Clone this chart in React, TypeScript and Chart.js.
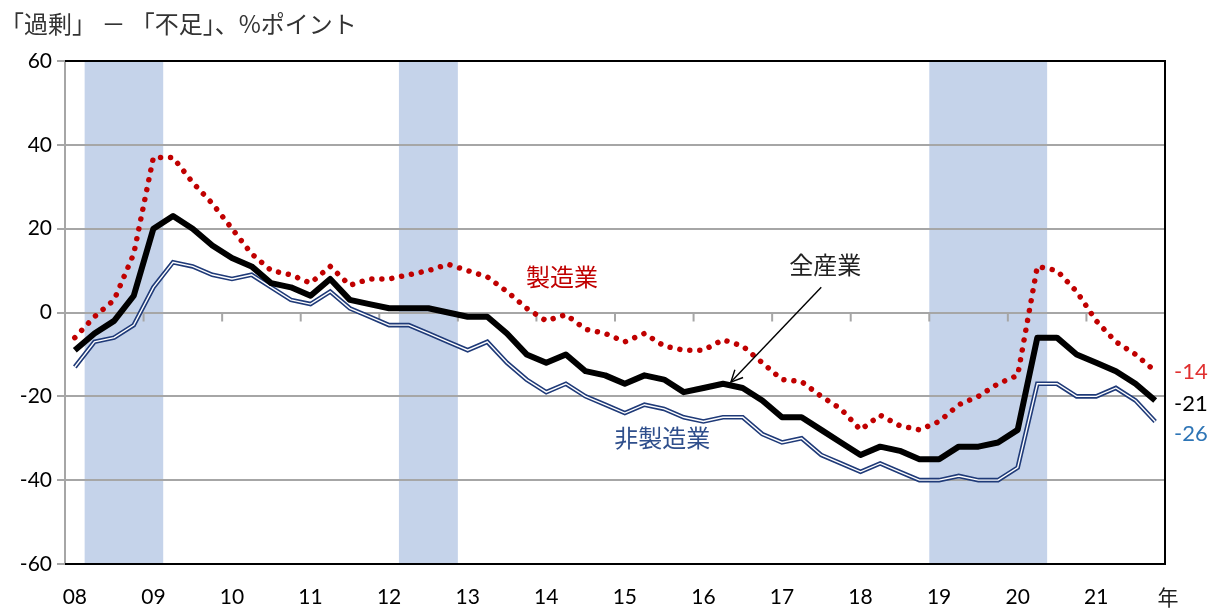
import React, { useEffect, useRef } from "react";
import { Chart, registerables } from "chart.js";

Chart.register(...registerables);

// ---- data ----
const years = ["08", "09", "10", "11", "12", "13", "14", "15", "16", "17", "18", "19", "20", "21"];
const quarterLabels = years.flatMap((yy) => [yy, "", "", ""]);

const allIndustries = [
  -9, -5, -2, 4, 20, 23, 20, 16, 13, 11, 7, 6, 4, 8,
  3, 2, 1, 1, 1, 0, -1, -1, -5, -10, -12, -10, -14, -15,
  -17, -15, -16, -19, -18, -17, -18, -21, -25, -25, -28, -31, -34, -32,
  -33, -35, -35, -32, -32, -31, -28, -6, -6, -10, -12, -14, -17, -21,
];
const manufacturing = [
  -6, -1, 3, 14, 37, 37, 31, 26, 20, 14, 10, 9, 7, 11,
  6.5, 8, 8, 9, 10, 11.5, 10, 8.5, 5, 1, -2, -0.5, -4, -5,
  -7, -5, -8, -9, -9, -6.5, -8, -12, -16, -16.5, -20, -23, -28, -24.5,
  -27, -28, -26, -22, -20, -17, -15, 11, 10, 5, -2, -7, -10, -14,
];
const nonManufacturing = [
  -13, -7, -6, -3, 6, 12, 11, 9, 8, 9, 6, 3, 2, 5,
  1, -1, -3, -3, -5, -7, -9, -7, -12, -16, -19, -17, -20, -22,
  -24, -22, -23, -25, -26, -25, -25, -29, -31, -30, -34, -36, -38, -36,
  -38, -40, -40, -39, -40, -40, -37, -17, -17, -20, -20, -18, -21, -26,
];
// recession periods as [first quarter index, last quarter index]
const recessionBands: [number, number][] = [
  [1, 4],
  [17, 19],
  [44, 49],
];
const yTicks = { min: -60, max: 60, step: 20 };

const RED = "#c00000";
const NAVY = "#1f3a78";
const CJK = '"Noto Sans CJK JP", "Noto Sans", sans-serif';
const NUM = 'Lato, "Noto Sans", sans-serif';

const decorPlugin = {
  id: "decor",
  beforeDraw(chart: any) {
    const { ctx, chartArea: a, scales } = chart;
    const x = scales.x;
    ctx.save();
    ctx.fillStyle = "#c5d3ea";
    for (const [s, e] of recessionBands) {
      const x0 = x.getPixelForValue(s - 0.5);
      const x1 = x.getPixelForValue(e + 0.5);
      ctx.fillRect(x0, a.top, x1 - x0, a.bottom - a.top);
    }
    ctx.restore();
  },
  beforeDatasetsDraw(chart: any) {
    const { ctx, scales } = chart;
    const x = scales.x;
    const y = scales.y;
    const y0 = y.getPixelForValue(0);
    ctx.save();
    ctx.strokeStyle = "#a6a6a6";
    ctx.lineWidth = 2;
    for (let k = 1; k <= years.length; k++) {
      const px = x.getPixelForValue(4 * k - 0.5);
      ctx.beginPath();
      ctx.moveTo(px, y0);
      ctx.lineTo(px, y0 + 9);
      ctx.stroke();
    }
    ctx.restore();
  },
  afterDatasetsDraw(chart: any) {
    const { ctx, chartArea: a, scales } = chart;
    const x = scales.x;
    const y = scales.y;
    ctx.save();
    // frame
    ctx.strokeStyle = "#000";
    ctx.lineWidth = 2;
    ctx.beginPath();
    ctx.moveTo(a.left, a.top);
    ctx.lineTo(a.right, a.top);
    ctx.lineTo(a.right, a.bottom);
    ctx.lineTo(a.left, a.bottom);
    ctx.stroke();

    // title
    ctx.font = `24px ${CJK}`;
    ctx.fillStyle = "#333";
    ctx.textAlign = "left";
    ctx.textBaseline = "middle";
    ctx.fillText("「過剰」 － 「不足」、%ポイント", 0, 24);

    // 年
    ctx.font = `21px ${CJK}`;
    ctx.fillStyle = "#222";
    ctx.textAlign = "center";
    ctx.fillText("年", a.right + 3, 597);

    // series annotations
    ctx.font = `24px ${CJK}`;
    ctx.textAlign = "center";
    ctx.fillStyle = RED;
    ctx.fillText("製造業", x.getPixelForValue(24.8), y.getPixelForValue(8.6));
    ctx.fillStyle = "#2f4f8c";
    ctx.fillText("非製造業", x.getPixelForValue(29.9), y.getPixelForValue(-30));
    ctx.fillStyle = "#222";
    ctx.fillText("全産業", x.getPixelForValue(38.2), y.getPixelForValue(11.4));

    // arrow
    const sx = x.getPixelForValue(38.0), sy = y.getPixelForValue(6);
    const ex = x.getPixelForValue(33.4), ey = y.getPixelForValue(-16.6);
    ctx.strokeStyle = "#000";
    ctx.lineWidth = 1.4;
    ctx.beginPath();
    ctx.moveTo(sx, sy);
    ctx.lineTo(ex, ey);
    ctx.stroke();
    const ang = Math.atan2(ey - sy, ex - sx);
    const hl = 13;
    ctx.beginPath();
    ctx.moveTo(ex - hl * Math.cos(ang - 0.45), ey - hl * Math.sin(ang - 0.45));
    ctx.lineTo(ex, ey);
    ctx.lineTo(ex - hl * Math.cos(ang + 0.45), ey - hl * Math.sin(ang + 0.45));
    ctx.stroke();

    // end labels
    ctx.font = `22px ${NUM}`;
    ctx.textAlign = "left";
    const lastI = allIndustries.length - 1;
    const ends: [number, string, number][] = [
      [manufacturing[lastI], "#e03030", 1],
      [allIndustries[lastI], "#000", 3],
      [nonManufacturing[lastI], "#2e75b6", 12],
    ];
    for (const [v, c, off] of ends) {
      ctx.fillStyle = c;
      ctx.fillText(String(v), a.right + 9, y.getPixelForValue(v) + off);
    }
    ctx.restore();
  },
};

export default function App() {
  const ref = useRef<HTMLCanvasElement>(null);
  useEffect(() => {
    if (!ref.current) return;
    const chart = new Chart(ref.current, {
      type: "line",
      data: {
        labels: quarterLabels,
        datasets: [
          {
            label: "全産業",
            data: allIndustries,
            borderColor: "#000",
            borderWidth: 6,
            pointRadius: 0,
            tension: 0,
            borderJoinStyle: "round",
          },
          {
            label: "製造業",
            data: manufacturing,
            borderColor: RED,
            borderWidth: 5.5,
            borderDash: [0.01, 10],
            borderCapStyle: "round",
            pointRadius: 0,
            tension: 0,
          },
          {
            label: "非製造業(inner)",
            data: nonManufacturing,
            borderColor: "#fff",
            borderWidth: 1.4,
            pointRadius: 0,
            tension: 0,
          },
          {
            label: "非製造業",
            data: nonManufacturing,
            borderColor: NAVY,
            borderWidth: 4.6,
            pointRadius: 0,
            tension: 0,
          },
        ],
      },
      options: {
        animation: false,
        responsive: false,
        layout: { padding: { left: 0, top: 61, right: 53, bottom: 0 } },
        plugins: { legend: { display: false }, tooltip: { enabled: false } },
        scales: {
          x: {
            offset: true,
            grid: { display: false, drawTicks: false },
            border: { display: false },
            ticks: {
              autoSkip: false,
              maxRotation: 0,
              padding: 21,
              color: "#000",
              font: { family: NUM, size: 21 },
              callback: (_v: any, i: number) => quarterLabels[i],
            },
            afterFit: (s: any) => {
              s.height = 44;
            },
          },
          y: {
            min: yTicks.min,
            max: yTicks.max,
            ticks: {
              stepSize: yTicks.step,
              color: "#000",
              padding: 5,
              font: { family: NUM, size: 21 },
            },
            grid: { color: "#a6a6a6", lineWidth: 2, tickLength: 8 },
            border: { color: "#a6a6a6", width: 2 },
            afterFit: (s: any) => {
              s.width = 65;
            },
          },
        },
      },
      plugins: [decorPlugin],
    });
    return () => chart.destroy();
  }, []);
  return (
    <div style={{ position: "fixed", left: 0, top: 0, width: 1218, height: 608, background: "#fff" }}>
      <canvas ref={ref} width={1218} height={608} style={{ display: "block" }} />
    </div>
  );
}
